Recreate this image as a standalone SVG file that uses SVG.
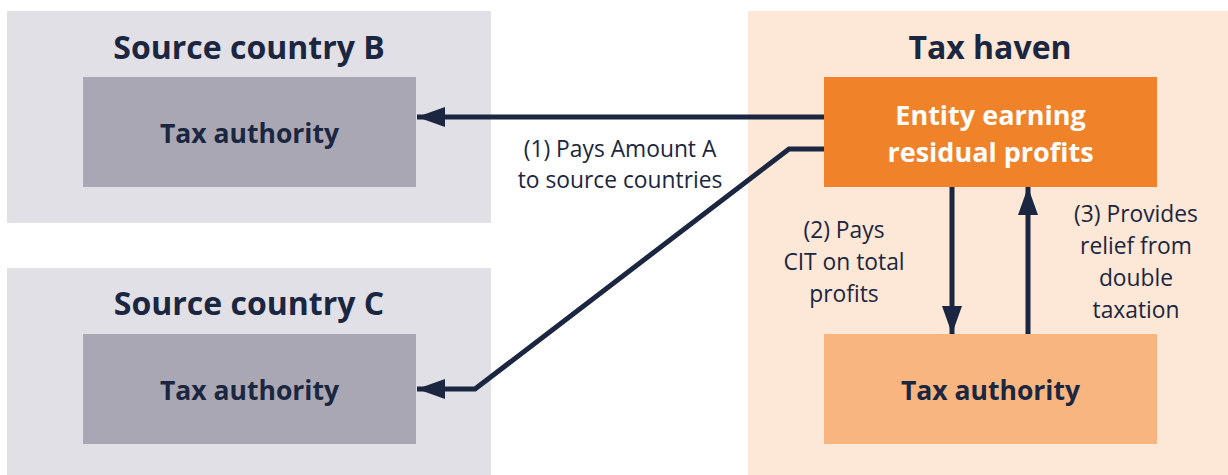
<svg xmlns="http://www.w3.org/2000/svg" width="1228" height="475" viewBox="0 0 1228 475">
<defs>
<style>
.panel-g{fill:#E1E0E6}
.panel-o{fill:#FDE7D6}
.box-g{fill:#A9A7B4}
.box-o{fill:#F0822A}
.box-lo{fill:#F8B57F}
.title{font-family:"Open Sans",Lato,sans-serif;font-weight:700;font-size:32px;fill:#1B2640;text-anchor:middle}
.bt{font-family:"Open Sans",Lato,sans-serif;font-weight:700;font-size:26.5px;fill:#1B2640;text-anchor:middle}
.bw{font-family:"Open Sans",Lato,sans-serif;font-weight:700;font-size:27px;fill:#FFFFFF;text-anchor:middle}
.lbl{font-family:"Open Sans",Lato,sans-serif;font-weight:400;font-size:22.8px;fill:#1B2640;text-anchor:middle}
.con{fill:none;stroke:#1B2640;stroke-width:5}
</style>
<marker id="ah" viewBox="0 0 28 20" refX="28" refY="10" markerWidth="28" markerHeight="20" markerUnits="userSpaceOnUse" orient="auto">
<path d="M0,0 L28,10 L0,20 Z" fill="#1B2640"/>
</marker>
</defs>
<rect width="1228" height="475" fill="#FFFFFF"/>
<g id="panel-b">
<rect class="panel-g" x="7" y="11" width="484" height="212"/>
<text class="title" x="249" y="59">Source country B</text>
</g>
<g id="panel-c">
<rect class="panel-g" x="7" y="268" width="484" height="207"/>
<text class="title" x="249" y="315">Source country C</text>
</g>
<g id="panel-haven">
<rect class="panel-o" x="748" y="11" width="480" height="464"/>
<text class="title" x="990" y="59">Tax haven</text>
</g>
<g id="tax-b">
<rect class="box-g" x="83" y="77" width="333" height="110"/>
<text class="bt" x="249.5" y="143">Tax authority</text>
</g>
<g id="tax-c">
<rect class="box-g" x="83" y="334" width="333" height="110"/>
<text class="bt" x="249.5" y="400">Tax authority</text>
</g>
<g id="entity">
<rect class="box-o" x="824" y="77" width="333" height="110"/>
<text class="bw" x="990.5" y="125">Entity earning</text>
<text class="bw" x="990.5" y="162">residual profits</text>
</g>
<g id="tax-haven">
<rect class="box-lo" x="824" y="334" width="333" height="110"/>
<text class="bt" x="990.5" y="400">Tax authority</text>
</g>
<g id="connectors">
<path class="con" d="M824,117 L417,117" marker-end="url(#ah)"/>
<path class="con" d="M824,149 L789,149 L475,389 L417,389" marker-end="url(#ah)"/>
<path class="con" d="M952,187 L952,334" marker-end="url(#ah)"/>
<path class="con" d="M1028,334 L1028,187" marker-end="url(#ah)"/>
</g>
<g id="labels">
<text class="lbl" x="620" y="157">(1) Pays Amount A</text>
<text class="lbl" x="620" y="188">to source countries</text>
<text class="lbl" x="844" y="238">(2) Pays</text>
<text class="lbl" x="844" y="270">CIT on total</text>
<text class="lbl" x="844" y="302">profits</text>
<text class="lbl" x="1136" y="222">(3) Provides</text>
<text class="lbl" x="1136" y="254">relief from</text>
<text class="lbl" x="1136" y="286">double</text>
<text class="lbl" x="1136" y="318">taxation</text>
</g>
</svg>
